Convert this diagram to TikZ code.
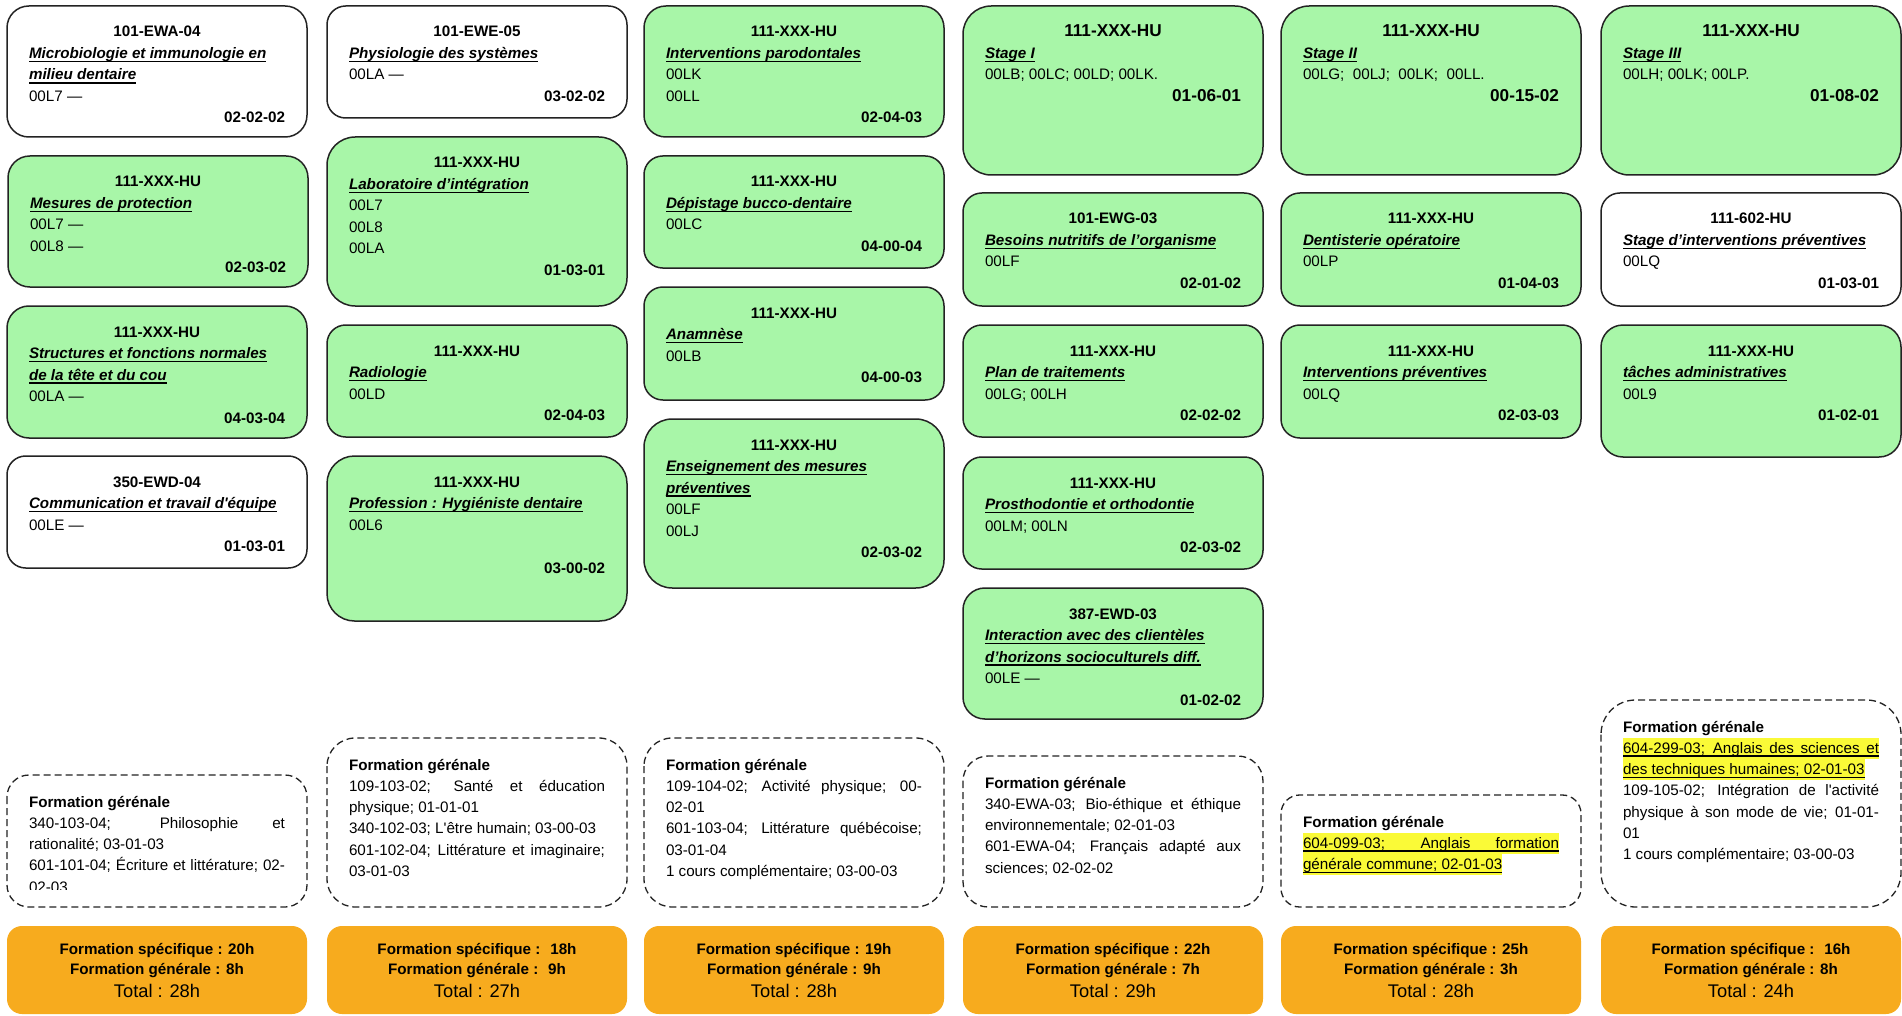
\documentclass[tikz,border=0pt]{standalone}
\usepackage{fontspec}
\setmainfont{Liberation Sans}
\definecolor{coursegreen}{RGB}{168,246,168}
\definecolor{totalorange}{RGB}{247,171,30}
\definecolor{hlyellow}{RGB}{250,250,55}
\definecolor{edgegray}{RGB}{35,35,35}
\hyphenpenalty=10000 \exhyphenpenalty=10000
\def\coursefont{\fontsize{15.2}{21.5}\selectfont}
\def\genfont{\fontsize{15.2}{21.3}\selectfont}
\def\stagesize{\fontsize{17.2}{21.5}\selectfont}
\newcommand\hours[1]{\par\hspace*{\fill}\textbf{#1}}
\newcommand\titleul[1]{\leavevmode\setbox0\hbox{#1}\rlap{\rule[-3.6pt]{\wd0}{1.4pt}}\box0}
\newcommand\hlbox[1]{\leavevmode\setbox0\hbox{#1}\rlap{\textcolor{hlyellow}{\rule[-5.5pt]{\wd0}{21.3pt}}}\rlap{\rule[-3.2pt]{\wd0}{1.2pt}}\box0}
\tikzset{
  course/.style={anchor=north west, inner xsep=22pt, inner ysep=0pt, outer sep=0pt, draw=edgegray, line width=1.5pt},
  greencourse/.style={course, fill=coursegreen},
  whitecourse/.style={course, fill=white},
  gentext/.style={anchor=north west, inner xsep=22pt, inner ysep=0pt, outer sep=0pt},
  genborder/.style={draw=edgegray, line width=1.3pt, dash pattern=on 7pt off 4pt},
  totalbox/.style={anchor=north west, inner xsep=10pt, inner ysep=0pt, outer sep=0pt, fill=totalorange, rounded corners=15pt}
}
\newcommand\course[8]{%
  \pgfmathsetmacro\rcorner{(#5-#4)/6}%
  \node[#1, rounded corners=\rcorner pt] (#2) at (#3,#4)
    {\parbox[t][\dimexpr#5pt-#4pt\relax][t]{256pt}{\coursefont
      \centering\rule{0pt}{31pt}\textbf{#6}\par
      \raggedright{\bfseries\itshape #7\par}
      #8}};}
\newcommand\general[5]{%
  \begin{scope}
    \clip (#2,#3) rectangle (#2+300,#4-18);
    \node[gentext] (#1) at (#2,#3)
      {\parbox[t][\dimexpr#4pt-#3pt\relax][t]{256pt}{\genfont
        \rule{0pt}{32pt}\textbf{Formation gérénale}\par #5}};
  \end{scope}
  \pgfmathsetmacro\rcorner{(#4-#3)/6}%
  \draw[genborder, rounded corners=\rcorner pt] (#1.north west) rectangle (#1.south east);}
\newcommand\totals[5]{%
  \node[totalbox] (#1) at (#2,926)
    {\parbox[t][88pt][t]{280pt}{\centering\coursefont
      \rule{0pt}{28pt}\textbf{Formation spécifique : #3}\par
      \fontsize{15.2}{20}\selectfont\textbf{Formation générale : #4}\par
      \fontsize{18.3}{23.5}\selectfont Total : #5\par}};}

\begin{document}
\begin{tikzpicture}[x=1pt,y=-1pt]
  \path[use as bounding box, fill=white] (0,0) rectangle (1902,1016);

  \course{whitecourse}{a1}{7}{6}{137}{101-EWA-04}{\titleul{Microbiologie et immunologie en}\par\titleul{milieu dentaire}}{00L7 —\hours{02-02-02}}
  \course{greencourse}{a2}{8}{156}{287}{111-XXX-HU}{\titleul{Mesures de protection}}{00L7 —\par 00L8 —\hours{02-03-02}}
  \course{greencourse}{a3}{7}{306}{438}{111-XXX-HU}{\titleul{Structures et fonctions normales}\par\titleul{de la tête et du cou}}{00LA —\hours{04-03-04}}
  \course{whitecourse}{a4}{7}{456}{568}{350-EWD-04}{\titleul{Communication et travail d\textquotesingle équipe}}{00LE —\hours{01-03-01}}

  \course{whitecourse}{b1}{327}{6}{118}{101-EWE-05}{\titleul{Physiologie des systèmes}}{00LA —\hours{03-02-02}}
  \course{greencourse}{b2}{327}{137}{306}{111-XXX-HU}{\titleul{Laboratoire d’intégration}}{00L7\par 00L8\par 00LA\hours{01-03-01}}
  \course{greencourse}{b3}{327}{325}{437}{111-XXX-HU}{\titleul{Radiologie}}{00LD\hours{02-04-03}}
  \course{greencourse}{b4}{327}{456}{621}{111-XXX-HU}{\titleul{Profession : Hygiéniste dentaire}}{00L6\par\mbox{}\hours{03-00-02}}

  \course{greencourse}{c1}{644}{6}{137}{111-XXX-HU}{\titleul{Interventions parodontales}}{00LK\par 00LL\hours{02-04-03}}
  \course{greencourse}{c2}{644}{156}{268}{111-XXX-HU}{\titleul{Dépistage bucco-dentaire}}{00LC\hours{04-00-04}}
  \course{greencourse}{c3}{644}{287}{400}{111-XXX-HU}{\titleul{Anamnèse}}{00LB\hours{04-00-03}}
  \course{greencourse}{c4}{644}{419}{588}{111-XXX-HU}{\titleul{Enseignement des mesures}\par\titleul{préventives}}{00LF\par 00LJ\hours{02-03-02}}

  \course{greencourse}{d1}{963}{6}{175}{\stagesize 111-XXX-HU}{\titleul{Stage I}}{00LB; 00LC; 00LD; 00LK.\hours{\stagesize 01-06-01}}
  \course{greencourse}{d2}{963}{193}{306}{101-EWG-03}{\titleul{Besoins nutritifs de l’organisme}}{00LF\hours{02-01-02}}
  \course{greencourse}{d3}{963}{325}{437}{111-XXX-HU}{\titleul{Plan de traitements}}{00LG; 00LH\hours{02-02-02}}
  \course{greencourse}{d4}{963}{457}{569}{111-XXX-HU}{\titleul{Prosthodontie et orthodontie}}{00LM; 00LN\hours{02-03-02}}
  \course{greencourse}{d5}{963}{588}{719}{387-EWD-03}{\titleul{Interaction avec des clientèles}\par\titleul{d’horizons socioculturels diff.}}{00LE —\hours{01-02-02}}

  \course{greencourse}{e1}{1281}{6}{175}{\stagesize 111-XXX-HU}{\titleul{Stage II}}{00LG; ~00LJ; ~00LK; ~00LL.\hours{\stagesize 00-15-02}}
  \course{greencourse}{e2}{1281}{193}{306}{111-XXX-HU}{\titleul{Dentisterie opératoire}}{00LP\hours{01-04-03}}
  \course{greencourse}{e3}{1281}{325}{438}{111-XXX-HU}{\titleul{Interventions préventives}}{00LQ\hours{02-03-03}}

  \course{greencourse}{f1}{1601}{6}{175}{\stagesize 111-XXX-HU}{\titleul{Stage III}}{00LH; 00LK; 00LP.\hours{\stagesize 01-08-02}}
  \course{whitecourse}{f2}{1601}{193}{306}{111-602-HU}{\titleul{Stage d’interventions préventives}}{00LQ\hours{01-03-01}}
  \course{greencourse}{f3}{1601}{325}{457}{111-XXX-HU}{\titleul{tâches administratives}}{00L9\hours{01-02-01}}

  \general{a5}{7}{775}{907}{340-103-04; Philosophie et\linebreak rationalité; 03-01-03\par 601-101-04; Écriture et littérature; 02-\linebreak 02-03}
  \general{b5}{327}{738}{907}{109-103-02; Santé et éducation\linebreak physique; 01-01-01\par 340-102-03; L\textquotesingle être humain; 03-00-03\par 601-102-04; Littérature et imaginaire;\linebreak 03-01-03}
  \general{c5}{644}{738}{907}{109-104-02; Activité physique; 00-\linebreak 02-01\par 601-103-04; Littérature québécoise;\linebreak 03-01-04\par 1 cours complémentaire; 03-00-03}
  \general{d6}{963}{756}{907}{340-EWA-03; Bio-éthique et éthique\linebreak environnementale; 02-01-03\par 601-EWA-04; Français adapté aux\linebreak sciences; 02-02-02}
  \general{e5}{1281}{795}{907}{\hlbox{\makebox[256pt][s]{604-099-03; Anglais formation}}\par\hlbox{générale commune; 02-01-03}}
  \general{f5}{1601}{700}{907}{\hlbox{\makebox[256pt][s]{604-299-03; Anglais des sciences et}}\par\hlbox{des techniques humaines; 02-01-03}\par 109-105-02; Intégration de l\textquotesingle activité\linebreak physique à son mode de vie; 01-01-\linebreak 01\par 1 cours complémentaire; 03-00-03}

  \totals{a6}{7}{20h}{8h}{28h}
  \totals{b6}{327}{\ 18h}{\ 9h}{27h}
  \totals{c6}{644}{19h}{9h}{28h}
  \totals{d7}{963}{22h}{7h}{29h}
  \totals{e6}{1281}{25h}{3h}{28h}
  \totals{f6}{1601}{\ 16h}{8h}{24h}
\end{tikzpicture}
\end{document}
